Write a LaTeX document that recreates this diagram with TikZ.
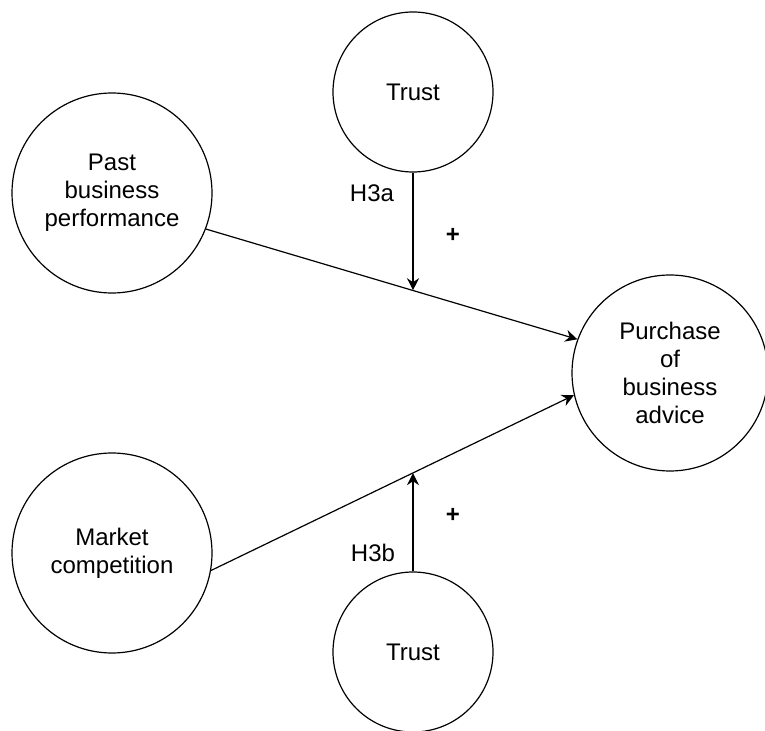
\documentclass[tikz,border=0pt]{standalone}
\usepackage{fontspec}
\setmainfont{Liberation Sans}
\usepackage{tikz}
\usetikzlibrary{arrows.meta}

\begin{document}
\begin{tikzpicture}[x=0.5pt, y=-0.5pt, line width=0.6pt,
		construct/.style={draw, circle, inner sep=0pt, align=center, font=\fontsize{12}{14}\selectfont},
		link/.style={-{Stealth[length=6pt, width=6pt, inset=2pt]}},
		hyp/.style={font=\fontsize{12}{14}\selectfont}]
	\useasboundingbox (0,0) rectangle (765,731);
	\node[construct, minimum size=100pt] (past) at (112,193) {Past\\business\\performance};
	\node[construct, minimum size=100pt] (mkt) at (112,553) {Market\\competition};
	\node[construct, minimum size=98pt] (buy) at (670,373) {Purchase\\of\\business\\advice};
	\node[construct, minimum size=80pt] (trusta) at (413,92) {Trust};
	\node[construct, minimum size=80pt] (trustb) at (413,652) {Trust};
	% main paths
	\draw[link] (past.-21.6) -- (buy.160.2) coordinate[pos=0.555] (ja);
	\draw[link] (mkt.-10.7) -- (buy.193.3) coordinate[pos=0.555] (jb);
	% moderation
	\draw[link] (trusta.south) -- (trusta.south |- ja);
	\draw[link] (trustb.north) -- (trustb.north |- jb);
	\node[hyp] (ha) at (372,193) {H3a};
	\node[hyp] (hb) at (373,553) {H3b};
	\node[hyp] (pa) at (453,235) {\textbf{+}};
	\node[hyp] (pb) at (453,515) {\textbf{+}};
\end{tikzpicture}
\end{document}
